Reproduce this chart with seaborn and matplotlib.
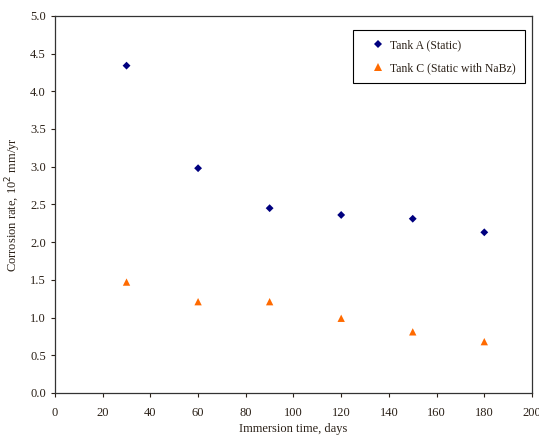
import matplotlib
matplotlib.use("Agg")
import matplotlib.pyplot as plt
import seaborn as sns
import pandas as pd

days = [30, 60, 90, 120, 150, 180]
tank_a = [4.34, 2.98, 2.45, 2.36, 2.31, 2.13]
tank_c = [1.47, 1.21, 1.21, 0.99, 0.81, 0.68]
series_names = ["Tank A (Static)", "Tank C (Static with NaBz)"]
x_ticks = list(range(0, 201, 20))
y_ticks = [0.0, 0.5, 1.0, 1.5, 2.0, 2.5, 3.0, 3.5, 4.0, 4.5, 5.0]

df = pd.DataFrame({
    "days": days + days,
    "rate": tank_a + tank_c,
    "series": [series_names[0]] * len(days) + [series_names[1]] * len(days),
})

sns.set_style("white")
plt.rcParams["font.family"] = ["Liberation Serif", "DejaVu Serif"]
text_color = "#2b2118"

fig = plt.figure(figsize=(5.39, 4.41), dpi=100)
ax = fig.add_axes([0.102, 0.109, 0.885, 0.855])

sns.scatterplot(data=df, x="days", y="rate", hue="series", style="series",
                size="series",
                sizes={series_names[0]: 16, series_names[1]: 28},
                palette={series_names[0]: "#00007f", series_names[1]: "#ff6a00"},
                markers={series_names[0]: "D", series_names[1]: "^"},
                linewidth=0, ax=ax)

ax.set_xlim(0, 200)
ax.set_ylim(0, 5)
ax.set_xticks(x_ticks)
ax.set_yticks(y_ticks)
ax.set_yticklabels(["%.1f" % v for v in y_ticks])
ax.tick_params(axis="both", direction="out", length=3, width=0.8,
               labelsize=9, colors=text_color, left=True, bottom=True)
ax.tick_params(axis="x", pad=7)
for sp in ax.spines.values():
    sp.set_color("#333333")
    sp.set_linewidth(0.9)

ax.set_xlabel("Immersion time, days", fontsize=9, color=text_color, labelpad=3)
ax.set_ylabel("Corrosion rate, 10$^{2}$ mm/yr", fontsize=9, color=text_color, labelpad=5)

leg = ax.legend(loc="upper right", bbox_to_anchor=(0.985, 0.963), fontsize=8.5,
                frameon=True, fancybox=False, edgecolor="black", framealpha=1,
                borderaxespad=0, borderpad=0.8, labelspacing=0.9,
                handletextpad=-0.3, handlelength=2.6)
leg.get_frame().set_linewidth(0.8)
for t in leg.get_texts():
    t.set_color(text_color)

fig.savefig("out.png", dpi=100)
